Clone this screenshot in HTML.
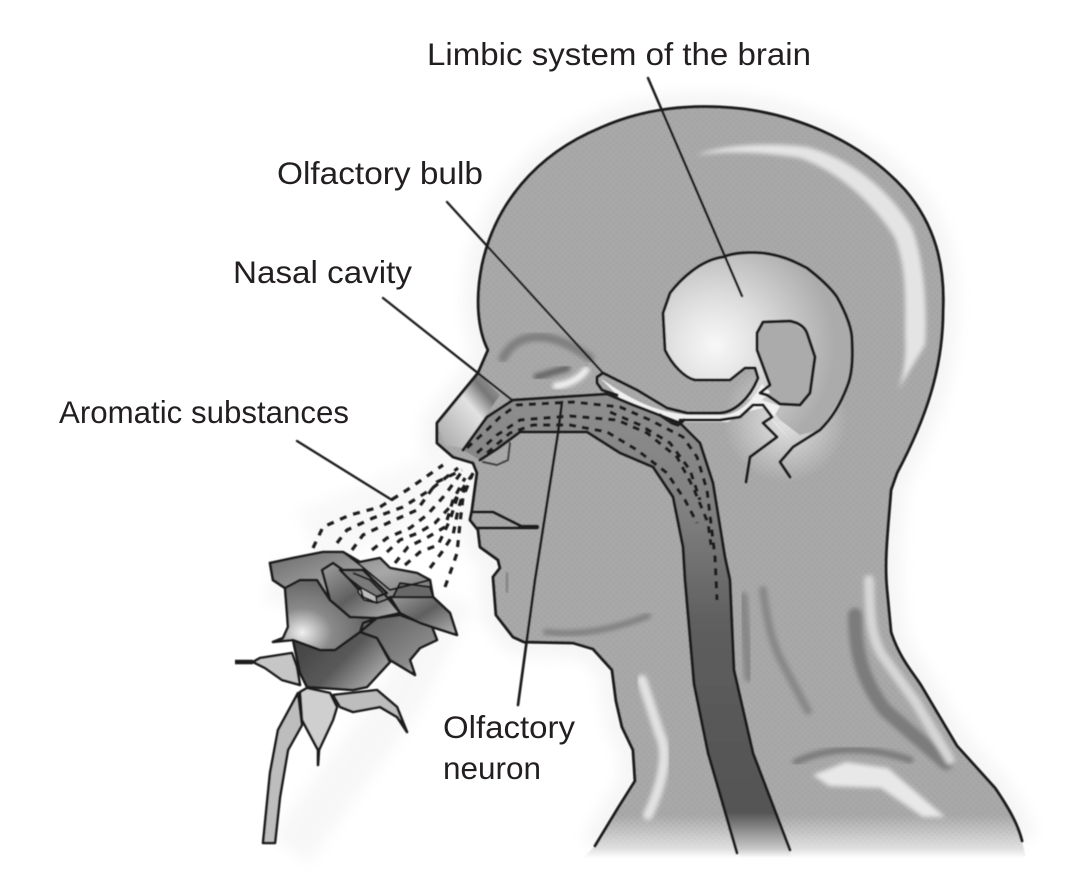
<!DOCTYPE html>
<html><head><meta charset="utf-8"><title>Olfactory pathway</title>
<style>html,body{margin:0;padding:0;background:#fff}svg{display:block}text{font-family:"Liberation Sans",sans-serif;font-size:31.5px;fill:#231f20}</style>
</head><body>
<svg xmlns="http://www.w3.org/2000/svg" width="1074" height="892" viewBox="0 0 1074 892">
<defs>
<linearGradient id="hg" gradientUnits="userSpaceOnUse" x1="0" y1="815" x2="0" y2="858">
<stop offset="0" stop-color="#a9a9a9"/><stop offset="0.8" stop-color="#e2e2e2"/><stop offset="1" stop-color="#ffffff"/></linearGradient>
<linearGradient id="tg" gradientUnits="userSpaceOnUse" x1="0" y1="395" x2="0" y2="858">
<stop offset="0" stop-color="#8e8e8e"/><stop offset="0.25" stop-color="#808080"/><stop offset="0.5" stop-color="#5e5e5e"/><stop offset="0.9" stop-color="#545454"/><stop offset="0.98" stop-color="#c8c8c8"/><stop offset="1" stop-color="#ffffff"/></linearGradient>
<linearGradient id="mg" gradientUnits="userSpaceOnUse" x1="0" y1="815" x2="0" y2="850"><stop offset="0" stop-color="#fff"/><stop offset="1" stop-color="#000"/></linearGradient>
<mask id="fade" maskUnits="userSpaceOnUse" x="0" y="0" width="1074" height="892"><rect width="1074" height="892" fill="url(#mg)"/></mask>
<radialGradient id="bg" gradientUnits="userSpaceOnUse" cx="715" cy="345" r="120">
<stop offset="0" stop-color="#f8f8f8"/><stop offset="0.4" stop-color="#dedede"/><stop offset="1" stop-color="#ababab"/></radialGradient>
<radialGradient id="gl" gradientUnits="userSpaceOnUse" cx="785" cy="420" r="62">
<stop offset="0" stop-color="#e4e4e4"/><stop offset="1" stop-color="#e4e4e4" stop-opacity="0"/></radialGradient>
<linearGradient id="p1" x1="0" y1="0" x2="1" y2="1"><stop offset="0" stop-color="#a0a0a0"/><stop offset="0.5" stop-color="#5f5f5f"/><stop offset="1" stop-color="#b8b8b8"/></linearGradient>
<radialGradient id="p2" cx="0.3" cy="0.8" r="0.8"><stop offset="0" stop-color="#f0f0f0"/><stop offset="0.35" stop-color="#8a8a8a"/><stop offset="1" stop-color="#505050"/></radialGradient>
<linearGradient id="p3" x1="0" y1="0" x2="1" y2="0.6"><stop offset="0" stop-color="#3e3e3e"/><stop offset="0.6" stop-color="#5a5a5a"/><stop offset="1" stop-color="#a8a8a8"/></linearGradient>
<linearGradient id="p4" x1="0" y1="0" x2="1" y2="1"><stop offset="0" stop-color="#6a6a6a"/><stop offset="0.5" stop-color="#a8a8a8"/><stop offset="1" stop-color="#5a5a5a"/></linearGradient>
<linearGradient id="p5" x1="0" y1="0" x2="1" y2="1"><stop offset="0" stop-color="#585858"/><stop offset="0.7" stop-color="#8a8a8a"/><stop offset="1" stop-color="#d8d8d8"/></linearGradient>
<linearGradient id="nose" x1="0" y1="1" x2="1" y2="0"><stop offset="0" stop-color="#a5a5a5"/><stop offset="0.55" stop-color="#e2e2e2"/><stop offset="0.75" stop-color="#777"/><stop offset="1" stop-color="#a9a9a9"/></linearGradient>
<pattern id="dots" width="6" height="6" patternUnits="userSpaceOnUse"><circle cx="1.5" cy="1.5" r="1" fill="#8f8f8f"/><circle cx="4.5" cy="4.5" r="1" fill="#8f8f8f"/></pattern>
<filter id="b05" x="-5%" y="-5%" width="110%" height="110%"><feGaussianBlur stdDeviation="0.5"/></filter>
<filter id="b2" x="-20%" y="-20%" width="140%" height="140%"><feGaussianBlur stdDeviation="2"/></filter>
<filter id="b7" x="-10%" y="-10%" width="120%" height="120%"><feGaussianBlur stdDeviation="7"/></filter>
<path id="hd" d="M595,846 L618,808 L635,781 L633,750 L622,727 L616,701 L612,670 L593,649 L573,643 L524,642 L513,637 L496,615 L493,577 L500,568 L498,560 L480,547 L478,530 L470,520 L472,510 L477,473 L473,463 L453,457 L437,443 L437,423 L478,373 L488,350 C478,330 475,300 482,265 C495,205 535,155 600,128 C640,110 680,105 720,107 C790,110 860,140 905,190 C935,225 945,265 943,310 C943,370 925,420 897,473 L891,490 C888,530 884,560 887,590 L891,632 C900,660 915,675 922,687 L957,746 L995,788 C1010,810 1018,825 1022,841"/>
<path id="hdf" d="M583,858 L595,846 L618,808 L635,781 L633,750 L622,727 L616,701 L612,670 L593,649 L573,643 L524,642 L513,637 L496,615 L493,577 L500,568 L498,560 L480,547 L478,530 L470,520 L472,510 L477,473 L473,463 L453,457 L437,443 L437,423 L478,373 L488,350 C478,330 475,300 482,265 C495,205 535,155 600,128 C640,110 680,105 720,107 C790,110 860,140 905,190 C935,225 945,265 943,310 C943,370 925,420 897,473 L891,490 C888,530 884,560 887,590 L891,632 C900,660 915,675 922,687 L957,746 L995,788 C1010,810 1018,825 1022,841 L1026,858 Z"/>
</defs>

<!-- halo -->
<g filter="url(#b7)" opacity="0.28">
<use href="#hd" fill="none" stroke="#dedede" stroke-width="30"/>
<path d="M270,580 L440,620 L400,700 L290,850" fill="none" stroke="#e4e4e4" stroke-width="45"/>
<path d="M310,540 L470,470" fill="none" stroke="#e8e8e8" stroke-width="60"/>
</g>

<g filter="url(#b05)">
<!-- head -->
<use href="#hdf" fill="url(#hg)"/>
<g mask="url(#fade)"><use href="#hdf" fill="url(#dots)" opacity="0.35"/></g>

<!-- head shading -->
<path d="M697,155 C720,145 770,142 807,147 C850,158 890,190 912,228 C926,265 927,320 925,345 L898,390 C906,370 906,345 905,335 C906,290 905,265 895,238 C875,205 840,172 800,158 C770,153 730,150 697,155 Z" fill="#e4e4e4" filter="url(#b2)"/>
<g fill="none" stroke-linecap="round" stroke-linejoin="round">
<path d="M503,358 C515,335 545,325 590,358" stroke="#808080" stroke-width="9" filter="url(#b2)"/>
<path d="M537,377 L567,368" stroke="#666" stroke-width="7" filter="url(#b2)"/>
<path d="M556,386 C570,384 580,378 586,370" stroke="#f2f2f2" stroke-width="7" filter="url(#b2)"/>
<path d="M546,632 C580,636 610,630 648,616" stroke="#808080" stroke-width="6" filter="url(#b2)"/>
<path d="M508,575 L506,590" stroke="#888" stroke-width="9" filter="url(#b2)"/>
<path d="M763,590 C768,630 775,650 784,666 L808,711" stroke="#888" stroke-width="8" filter="url(#b2)"/>
<path d="M743,597 L749,677" stroke="#888" stroke-width="10" filter="url(#b2)"/>
<path d="M855,615 C855,650 862,680 885,710 L946,763" stroke="#7c7c7c" stroke-width="14" filter="url(#b2)"/>
<path d="M869,580 C870,610 870,635 882,655 L915,701 L950,760" stroke="#d6d6d6" stroke-width="10" filter="url(#b2)"/>
<path d="M796,762 C830,746 870,746 910,760" stroke="#7c7c7c" stroke-width="7" filter="url(#b2)"/>
<path d="M642,680 L660,735 C670,755 660,790 648,815" stroke="#e2e2e2" stroke-width="10" filter="url(#b2)"/>
</g>
<path d="M813,775 L846,762 L888,768 L945,817 L923,817 L881,788 L829,786 Z" fill="#e8e8e8" filter="url(#b2)"/>

<!-- nose -->
<path d="M437,423 L478,373 L500,395 L463,448 L445,445 Z" fill="url(#nose)"/>

<!-- brain glow -->
<circle cx="785" cy="420" r="62" fill="url(#gl)"/>
<!-- brain -->
<path d="M723,257 C700,260 680,280 670,293 L663,313 L665,350 C672,365 685,378 695,380 L730,380 L745,368 L755,368 L758,378 L747,400 L763,395 L770,385 L757,350 L757,333 L763,322 L790,321 L807,333 L815,357 L810,393 L800,405 L780,404 L767,395 L760,393 L780,420 L800,435 L820,430 L847,387 L852,340 L837,297 L807,268 L763,253 Z" fill="url(#bg)"/>
<path d="M757,333 L763,322 L790,321 L807,333 L815,357 L810,393 L800,405 L780,404 L767,395 L770,385 L757,350 Z" fill="#ababab"/>
<!-- white neural band -->
<path d="M600,378 C625,395 650,412 690,415 L725,415 C745,412 755,395 762,384 L770,392 L762,400 L780,406 L772,420 L792,442 L763,408 L745,412 L728,422 L680,422 L620,398 Z" fill="#f0f0f0"/>

<!-- tube -->
<path d="M463,450 L487,417 L513,400 L560,397 L607,394 L633,405 L680,423 L700,443 L713,483 L725,557 L730,580 L734,670 L753,753 L792,858 L740,858 L708,753 L694,684 L685,580 L683,547 L673,497 L653,467 L620,453 L587,432 L520,432 L497,449 L480,460 Z" fill="url(#tg)"/>

<!-- outlines -->
<g fill="none" stroke="#1c1c1c" stroke-width="3" stroke-linejoin="round" stroke-linecap="round">
<use href="#hd"/>
<path d="M472,512 L493,512 L523,527 L537,527 M478,528 L537,528"/>
<path d="M523,527 L537,527" stroke-width="4.5"/>
<path d="M463,450 L487,417 L513,400 L560,397 L607,394 L633,405 L680,423 L700,443 L713,483 L725,557 L730,580 L734,670 L753,753 L790,850"/>
<path d="M480,460 L497,449 L520,432 L587,432 L620,453 L653,467 L673,497 L683,547 L685,580 L694,684 L708,753 L737,853"/>
<path d="M510,443 L508,460 L497,465 L483,462" stroke-width="2.2" stroke="#444"/>
<!-- brain lines -->
<path d="M723,257 C700,260 680,280 670,293 L663,313 L665,350 C672,365 685,378 695,380 L730,380 L745,368 L755,368 L758,378 C750,398 735,412 720,413 L687,413 L667,408 L637,390 L603,373 L597,377 L597,383 L602,390 L617,395"/>
<path d="M723,257 C735,252 750,252 763,253 C785,256 795,262 807,268 C820,278 830,287 837,297 C847,315 852,330 852,340 C853,360 852,375 847,387 C840,405 832,418 820,430 L793,447 L780,462 L790,477"/>
<path d="M760,393 L770,385 L757,350 L757,333 L763,322 L790,321 C800,323 805,328 807,333 L815,357 L810,393 L800,405 L780,404 L767,395 Z"/>
<path d="M680,420 L720,420 L740,417 L753,405 L763,405 L772,417 L763,423 L777,437 L750,457 L746,482"/>
<path d="M660,415 L672,423 L678,425 L684,420" stroke-width="3.4"/>
</g>

<!-- tube dashes -->
<g fill="none" stroke="#1c1c1c" stroke-width="3.2" stroke-dasharray="7 6" stroke-linejoin="round">
<path d="M467,448 L487,430 L500,417 L517,405 L573,402 L620,407 L650,420 L683,437 L697,457 L707,490 L715,557 L717,600"/>
<path d="M477,453 L497,435 L520,420 L570,416 L617,420 L647,433 L677,457 L693,487 L708,523 L711,545"/>
<path d="M487,453 L510,433 L533,425 L570,425 L607,432 L637,450 L667,473 L685,500 L697,523"/>
<path d="M610,412 L640,425 L670,443 L690,470 L700,500"/>
</g>

<!-- scent -->
<g fill="none" stroke="#1c1c1c" stroke-width="3.2" stroke-dasharray="7 7" stroke-linejoin="round">
<path d="M313,548 L323,527 L350,515 L380,507 L407,490 L443,465"/>
<path d="M337,543 L347,530 L373,518 L403,507 L430,490 L458,468"/>
<path d="M352,550 L363,535 L390,522 L417,510 L437,482 L462,470"/>
<path d="M372,550 L387,538 L410,528 L427,515 L445,495 L463,470"/>
<path d="M387,552 L400,540 L418,533 L435,523 L450,507 L472,475"/>
<path d="M395,563 L408,547 L428,537 L445,527 L453,500 L465,478"/>
<path d="M405,565 L420,552 L438,545 L450,520 L458,495"/>
<path d="M430,568 L442,552 L453,535 L458,510 L467,480"/>
<path d="M445,587 L453,565 L457,553 L460,523 L463,497 L473,473"/>
</g>

<!-- rose leaves and stem -->
<g stroke="#1c1c1c" stroke-width="2.6" stroke-linejoin="round">
<path d="M298,693 L278,730 L270,773 L263,843 L275,843 L280,797 L288,750 L302,725 Z" fill="#bdbdbd"/>
<path d="M253,662 L265,668 L282,680 L300,685 L297,667 L292,653 L260,658 Z" fill="#c6c6c6"/>
<path d="M235,662 L253,662" stroke-width="4.5"/>
<path d="M300,692 L302,720 L318,750 L318,765 L319,750 L333,720 L337,707 L330,693 L307,688 Z" fill="#cfcfcf"/>
<path d="M333,695 L340,707 L353,712 L380,707 L397,717 L407,732 L397,707 L377,690 Z" fill="#bdbdbd"/>
<!-- bulb -->
<path d="M293,640 L300,673 L307,687 L353,690 L367,687 L390,662 L377,638 L360,632 L335,650 L320,650 Z" fill="url(#p3)"/>
<!-- outer petals -->
<path d="M270,563 L273,580 L285,588 L287,613 L288,627 L283,638 L273,642 L293,640 L320,650 L335,650 L360,632 L377,618 L350,617 L330,600 L317,580 L300,580 Z" fill="url(#p2)"/>
<path d="M360,632 L377,638 L390,660 L415,675 L410,660 L420,648 L437,640 L432,627 L400,615 L377,618 Z" fill="url(#p5)"/>
<path d="M400,613 L390,597 L430,593 L433,597 L450,613 L457,635 L432,627 L420,623 Z" fill="url(#p1)"/>
<path d="M270,563 L293,558 L323,552 L343,552 L360,562 L380,558 L390,568 L417,573 L430,580 L433,597 L390,597 L400,615 L377,618 L350,617 L330,600 L317,580 L300,580 L285,588 L273,580 Z" fill="url(#p4)"/>
<path d="M400,583 L430,587 L433,597 L393,597 Z" fill="#686868" stroke-width="2"/>
<path d="M322,570 L333,563 L343,570 L363,570 L387,597 L400,613 L377,618 L350,617 L330,600 Z" fill="url(#p1)"/>
<path d="M340,570 L363,570 L387,593 L368,600 L350,580 Z" fill="#7a7a7a"/>
<path d="M360,587 L376,596 L377,603 L364,600 L358,592 Z" fill="#bdbdbd" stroke-width="1.8"/>
<path d="M343,552 L360,565 L390,590 L430,580 M347,577 L360,587 L363,597 L377,603 L393,597 M353,573 L370,580 L383,593" fill="none" stroke-width="2"/>
<path d="M360,632 L363,623 L377,618" fill="none"/>
</g>

<!-- leader lines -->
<g fill="none" stroke="#1c1c1c" stroke-width="2.3" stroke-linecap="round">
<path d="M648,78 L742,296" stroke-width="2.5"/>
<path d="M447,202 L603,373"/>
<path d="M383,298 L512,400"/>
<path d="M297,441 L392,500"/>
<path d="M562,402 L558,433 L535,580 L518,705" stroke-width="2.7"/>
</g>
</g>

<text x="427" y="65" textLength="384" lengthAdjust="spacingAndGlyphs">Limbic system of the brain</text>
<text x="277" y="184" textLength="206" lengthAdjust="spacingAndGlyphs">Olfactory bulb</text>
<text x="233" y="283" textLength="179" lengthAdjust="spacingAndGlyphs">Nasal cavity</text>
<text x="59" y="423" textLength="290" lengthAdjust="spacingAndGlyphs">Aromatic substances</text>
<text x="443" y="738" textLength="132" lengthAdjust="spacingAndGlyphs">Olfactory</text>
<text x="443" y="779" textLength="98" lengthAdjust="spacingAndGlyphs">neuron</text>
</svg>
</body></html>
